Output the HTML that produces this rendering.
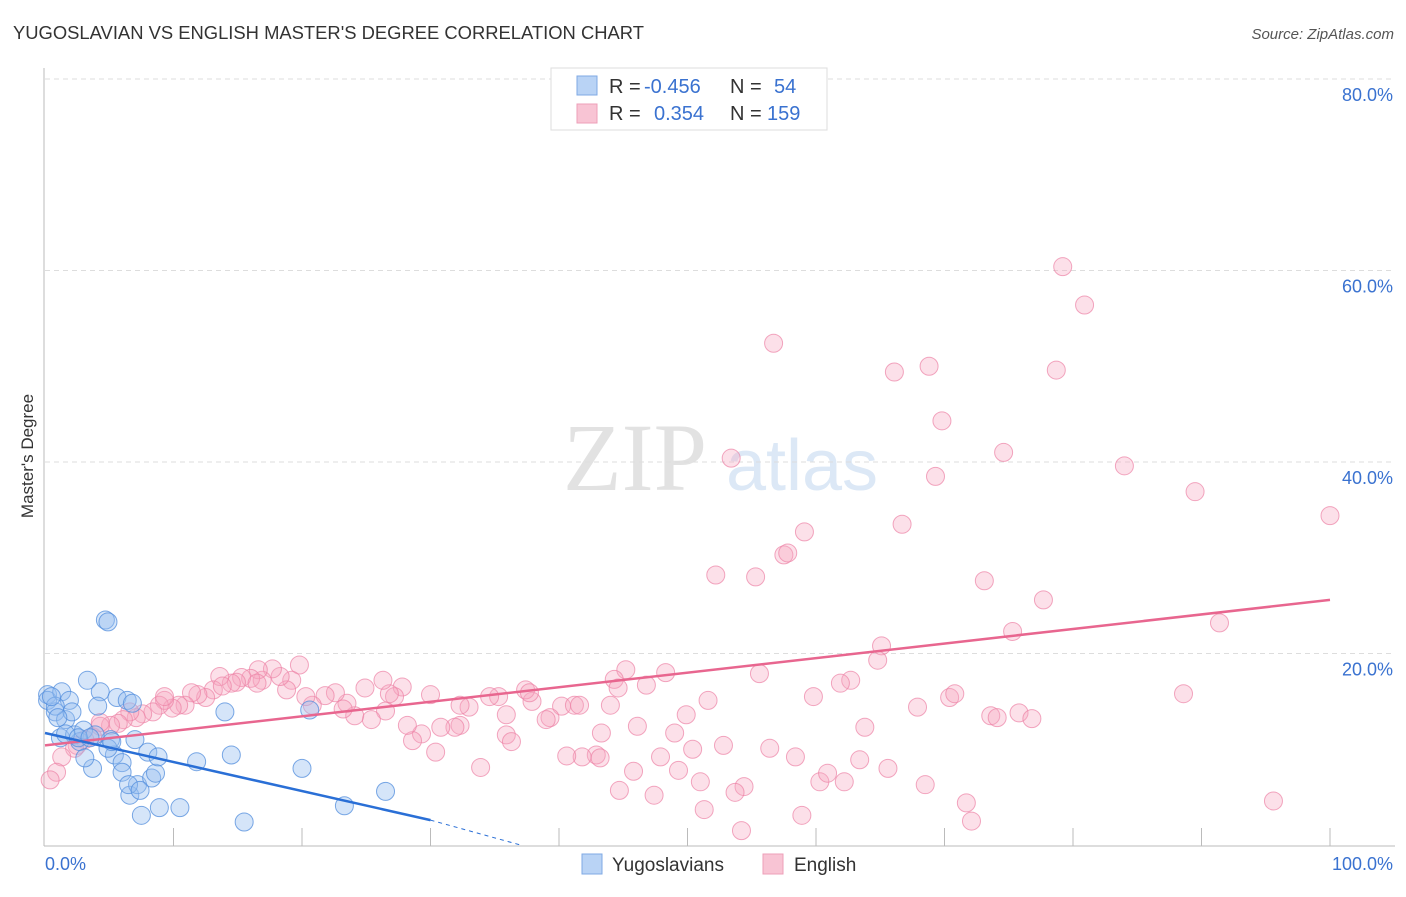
<!DOCTYPE html>
<html><head><meta charset="utf-8"><style>
body{margin:0;background:#fff;width:1406px;height:892px;overflow:hidden;font-family:"Liberation Sans",sans-serif}
</style></head><body>
<svg id="chart" width="1406" height="892" xmlns="http://www.w3.org/2000/svg" font-family="Liberation Sans, sans-serif">
<text x="13" y="39" font-size="18.4" fill="#333">YUGOSLAVIAN VS ENGLISH MASTER'S DEGREE CORRELATION CHART</text>
<text x="1394" y="39" font-size="15" fill="#555" font-style="italic" text-anchor="end">Source: ZipAtlas.com</text>
<text transform="translate(33,456) rotate(-90)" font-size="17" fill="#333" text-anchor="middle">Master's Degree</text>
<g>
<text x="635" y="490" font-size="96" fill="#e2e2e2" font-family="Liberation Serif, serif" text-anchor="middle">ZIP</text>
<text x="802" y="490" font-size="72" fill="#dce8f6" text-anchor="middle">atlas</text>
</g>
<g id="grid"></g>
<g id="axes"></g>
<g id="pts"></g>
<g id="lines"></g>
<g>
<rect x="551" y="68" width="276" height="62" fill="#fff" stroke="#ddd"/>
<rect x="577" y="76" width="20" height="19" fill="#b9d3f5" stroke="#7fa9e4"/>
<rect x="577" y="104" width="20" height="19" fill="#f8c4d4" stroke="#ee9fb8"/>
<text x="609" y="93" font-size="20" fill="#333">R = </text><text x="644" y="93" font-size="20" fill="#3a72d0">-0.456</text>
<text x="730" y="93" font-size="20" fill="#333">N = </text><text x="774" y="93" font-size="20" fill="#3a72d0">54</text>
<text x="609" y="120" font-size="20" fill="#333">R = </text><text x="654" y="120" font-size="20" fill="#3a72d0">0.354</text>
<text x="730" y="120" font-size="20" fill="#333">N = </text><text x="767" y="120" font-size="20" fill="#3a72d0">159</text>
</g>
<g>
<rect x="582" y="854" width="20" height="20" fill="#b9d3f5" stroke="#7fa9e4"/>
<text x="612" y="871" font-size="19" fill="#333">Yugoslavians</text>
<rect x="763" y="854" width="20" height="20" fill="#f8c4d4" stroke="#ee9fb8"/>
<text x="794" y="871" font-size="19" fill="#333">English</text>
</g>
</svg>
<script>
const yTicks=[20,40,60,80];
const yTickLabels=["20.0%","40.0%","60.0%","80.0%"];
const xTickLabels=["0.0%","100.0%"];
const blueX=[0.2,0.2,0.8,1.3,1.9,1.6,1.2,2.3,2.7,3.3,3.0,4.3,4.1,5.6,6.4,3.7,3.1,5.1,5.4,6.0,6.0,4.7,4.9,6.6,7.2,7.5,8.0,8.3,8.6,8.8,8.9,10.5,11.8,14.0,14.5,15.5,20.0,20.6,23.3,26.5,0.8,2.1,7.0,6.8,3.9,4.9,6.5,7.4,0.5,1.0,1.6,2.6,3.5,5.2];
const blueY=[15.7,15.1,13.9,16.0,15.1,13.1,11.2,11.5,10.8,17.2,12.0,16.0,14.5,15.4,15.1,8.0,9.1,11.0,9.4,8.6,7.6,23.5,23.3,5.2,6.3,3.1,9.7,7.0,7.5,9.2,3.9,3.9,8.7,13.9,9.4,2.4,8.0,14.1,4.1,5.6,14.5,13.9,11.0,14.8,11.5,10.1,6.3,5.7,15.5,13.3,11.6,11.2,11.2,10.8];
const pinkX=[79.2,80.9,56.7,66.1,68.8,78.7,69.8,53.4,74.6,84.0,69.3,89.5,100.0,66.7,59.1,57.5,57.8,52.2,55.3,73.1,77.7,75.3,91.4,65.1,64.8,62.7,61.9,55.6,48.3,45.2,44.3,44.6,46.8,51.6,59.8,67.9,70.4,70.8,73.6,74.1,75.8,76.8,88.6,95.6,72.1,71.7,68.5,65.6,63.4,63.8,62.2,60.3,60.9,58.4,58.9,56.4,54.2,54.4,53.7,52.8,51.3,51.0,50.4,49.9,49.3,49.0,47.9,47.4,45.8,46.1,43.3,42.9,41.8,40.6,40.2,39.3,39.0,37.9,37.4,37.7,35.9,36.3,35.9,35.3,34.6,33.9,33.0,32.3,31.9,30.8,30.4,30.0,29.3,28.6,28.2,27.8,27.2,26.8,26.5,26.3,25.4,24.9,24.1,23.5,23.2,22.6,21.8,20.8,20.3,19.8,19.2,18.8,18.3,17.7,16.9,16.6,16.0,15.3,14.9,14.5,13.6,13.1,12.5,11.9,11.4,10.9,10.4,9.9,9.3,8.9,8.4,7.6,7.1,6.6,6.1,5.7,5.1,4.3,3.7,3.1,2.5,2.3,1.3,0.9,0.4,4.3,9.3,13.8,16.5,32.3,41.2,44.0,44.7,41.6,43.2];
const pinkY=[60.4,56.4,52.4,49.4,50.0,49.6,44.3,40.4,41.0,39.6,38.5,36.9,34.4,33.5,32.7,30.3,30.5,28.2,28.0,27.6,25.6,22.3,23.2,20.8,19.3,17.2,16.9,17.9,18.0,18.3,17.3,16.4,16.7,15.1,15.5,14.4,15.4,15.8,13.5,13.3,13.8,13.2,15.8,4.6,2.5,4.4,6.3,8.0,8.9,12.3,6.6,6.6,7.5,9.2,3.1,10.1,1.5,6.1,5.5,10.4,3.7,6.6,10.0,13.6,7.8,11.7,9.2,5.2,7.7,12.4,11.7,9.4,9.2,9.3,14.5,13.3,13.1,15.0,16.2,15.9,11.5,10.8,13.6,15.5,15.5,8.1,14.4,12.5,12.3,12.3,9.7,15.7,11.6,10.9,12.5,16.5,15.5,15.8,14.0,17.2,13.1,16.4,13.5,14.8,14.2,15.9,15.6,14.6,15.5,18.8,17.2,16.2,17.6,18.4,17.2,18.3,17.4,17.5,17.0,16.9,17.6,16.2,15.4,15.7,15.9,14.6,14.6,14.3,15.1,14.6,13.9,13.7,13.3,13.9,13.1,12.7,12.5,12.4,11.3,11.0,10.4,10.1,9.2,7.6,6.8,12.8,15.5,16.6,16.9,14.6,14.6,14.6,5.7,14.6,9.1];
const blueTrend=[0,11.7,30,2.6];
const blueDash=[30,2.6,37,0];
const pinkTrend=[0,10.4,100,25.6];
const X0=45,X1=1330,Y0=845,YS=9.575;
function xs(v){return X0+(X1-X0)*v/100;}
function ys(v){return Y0-v*YS;}
const NS="http://www.w3.org/2000/svg";
function mk(tag,attrs,parent){const e=document.createElementNS(NS,tag);for(const k in attrs)e.setAttribute(k,attrs[k]);document.getElementById(parent).appendChild(e);return e;}
yTicks.forEach((t,i)=>{
 const l=mk('line',{x1:45,x2:1395,y1:ys(t),y2:ys(t),stroke:'#ddd','stroke-dasharray':'5,4'},'grid');
 
 
 const tx=mk('text',{x:1393,y:ys(t)+22,'font-size':18,fill:'#3a72d0','text-anchor':'end'},'axes');
 tx.textContent=yTickLabels[i];
 
 
});
let a=mk('line',{x1:44,x2:44,y1:68,y2:846,stroke:'#bbb'},'axes');


a=mk('line',{x1:44,x2:1395,y1:846,y2:846,stroke:'#bbb'},'axes');


for(let t=10;t<=100;t+=10){
 const tk=mk('line',{x1:xs(t),x2:xs(t),y1:828,y2:846,stroke:'#bbb'},'axes');
 
 
}
let xl=mk('text',{x:45,y:870,'font-size':18,fill:'#3a72d0'},'axes');xl.textContent=xTickLabels[0];


xl=mk('text',{x:1393,y:870,'font-size':18,fill:'#3a72d0','text-anchor':'end'},'axes');xl.textContent=xTickLabels[1];


pinkX.forEach((v,i)=>{
 const c=mk('circle',{cx:xs(v),cy:ys(pinkY[i]),r:9,fill:'rgba(245,165,192,0.35)',stroke:'rgba(236,130,165,0.7)','stroke-width':1},'pts');
 
 
});
blueX.forEach((v,i)=>{
 const c=mk('circle',{cx:xs(v),cy:ys(blueY[i]),r:9,fill:'rgba(150,190,240,0.4)',stroke:'rgba(80,140,220,0.75)','stroke-width':1},'pts');
 
 
});
let ln=mk('line',{x1:xs(pinkTrend[0]),y1:ys(pinkTrend[1]),x2:xs(pinkTrend[2]),y2:ys(pinkTrend[3]),stroke:'#e8668f','stroke-width':2.5},'lines');


ln=mk('line',{x1:xs(blueTrend[0]),y1:ys(blueTrend[1]),x2:xs(blueTrend[2]),y2:ys(blueTrend[3]),stroke:'#2a6fd6','stroke-width':2.5},'lines');


ln=mk('line',{x1:xs(blueDash[0]),y1:ys(blueDash[1]),x2:xs(blueDash[2]),y2:ys(blueDash[3]),stroke:'#2a6fd6','stroke-width':1,'stroke-dasharray':'4,4'},'lines');


</script>
</body></html>
